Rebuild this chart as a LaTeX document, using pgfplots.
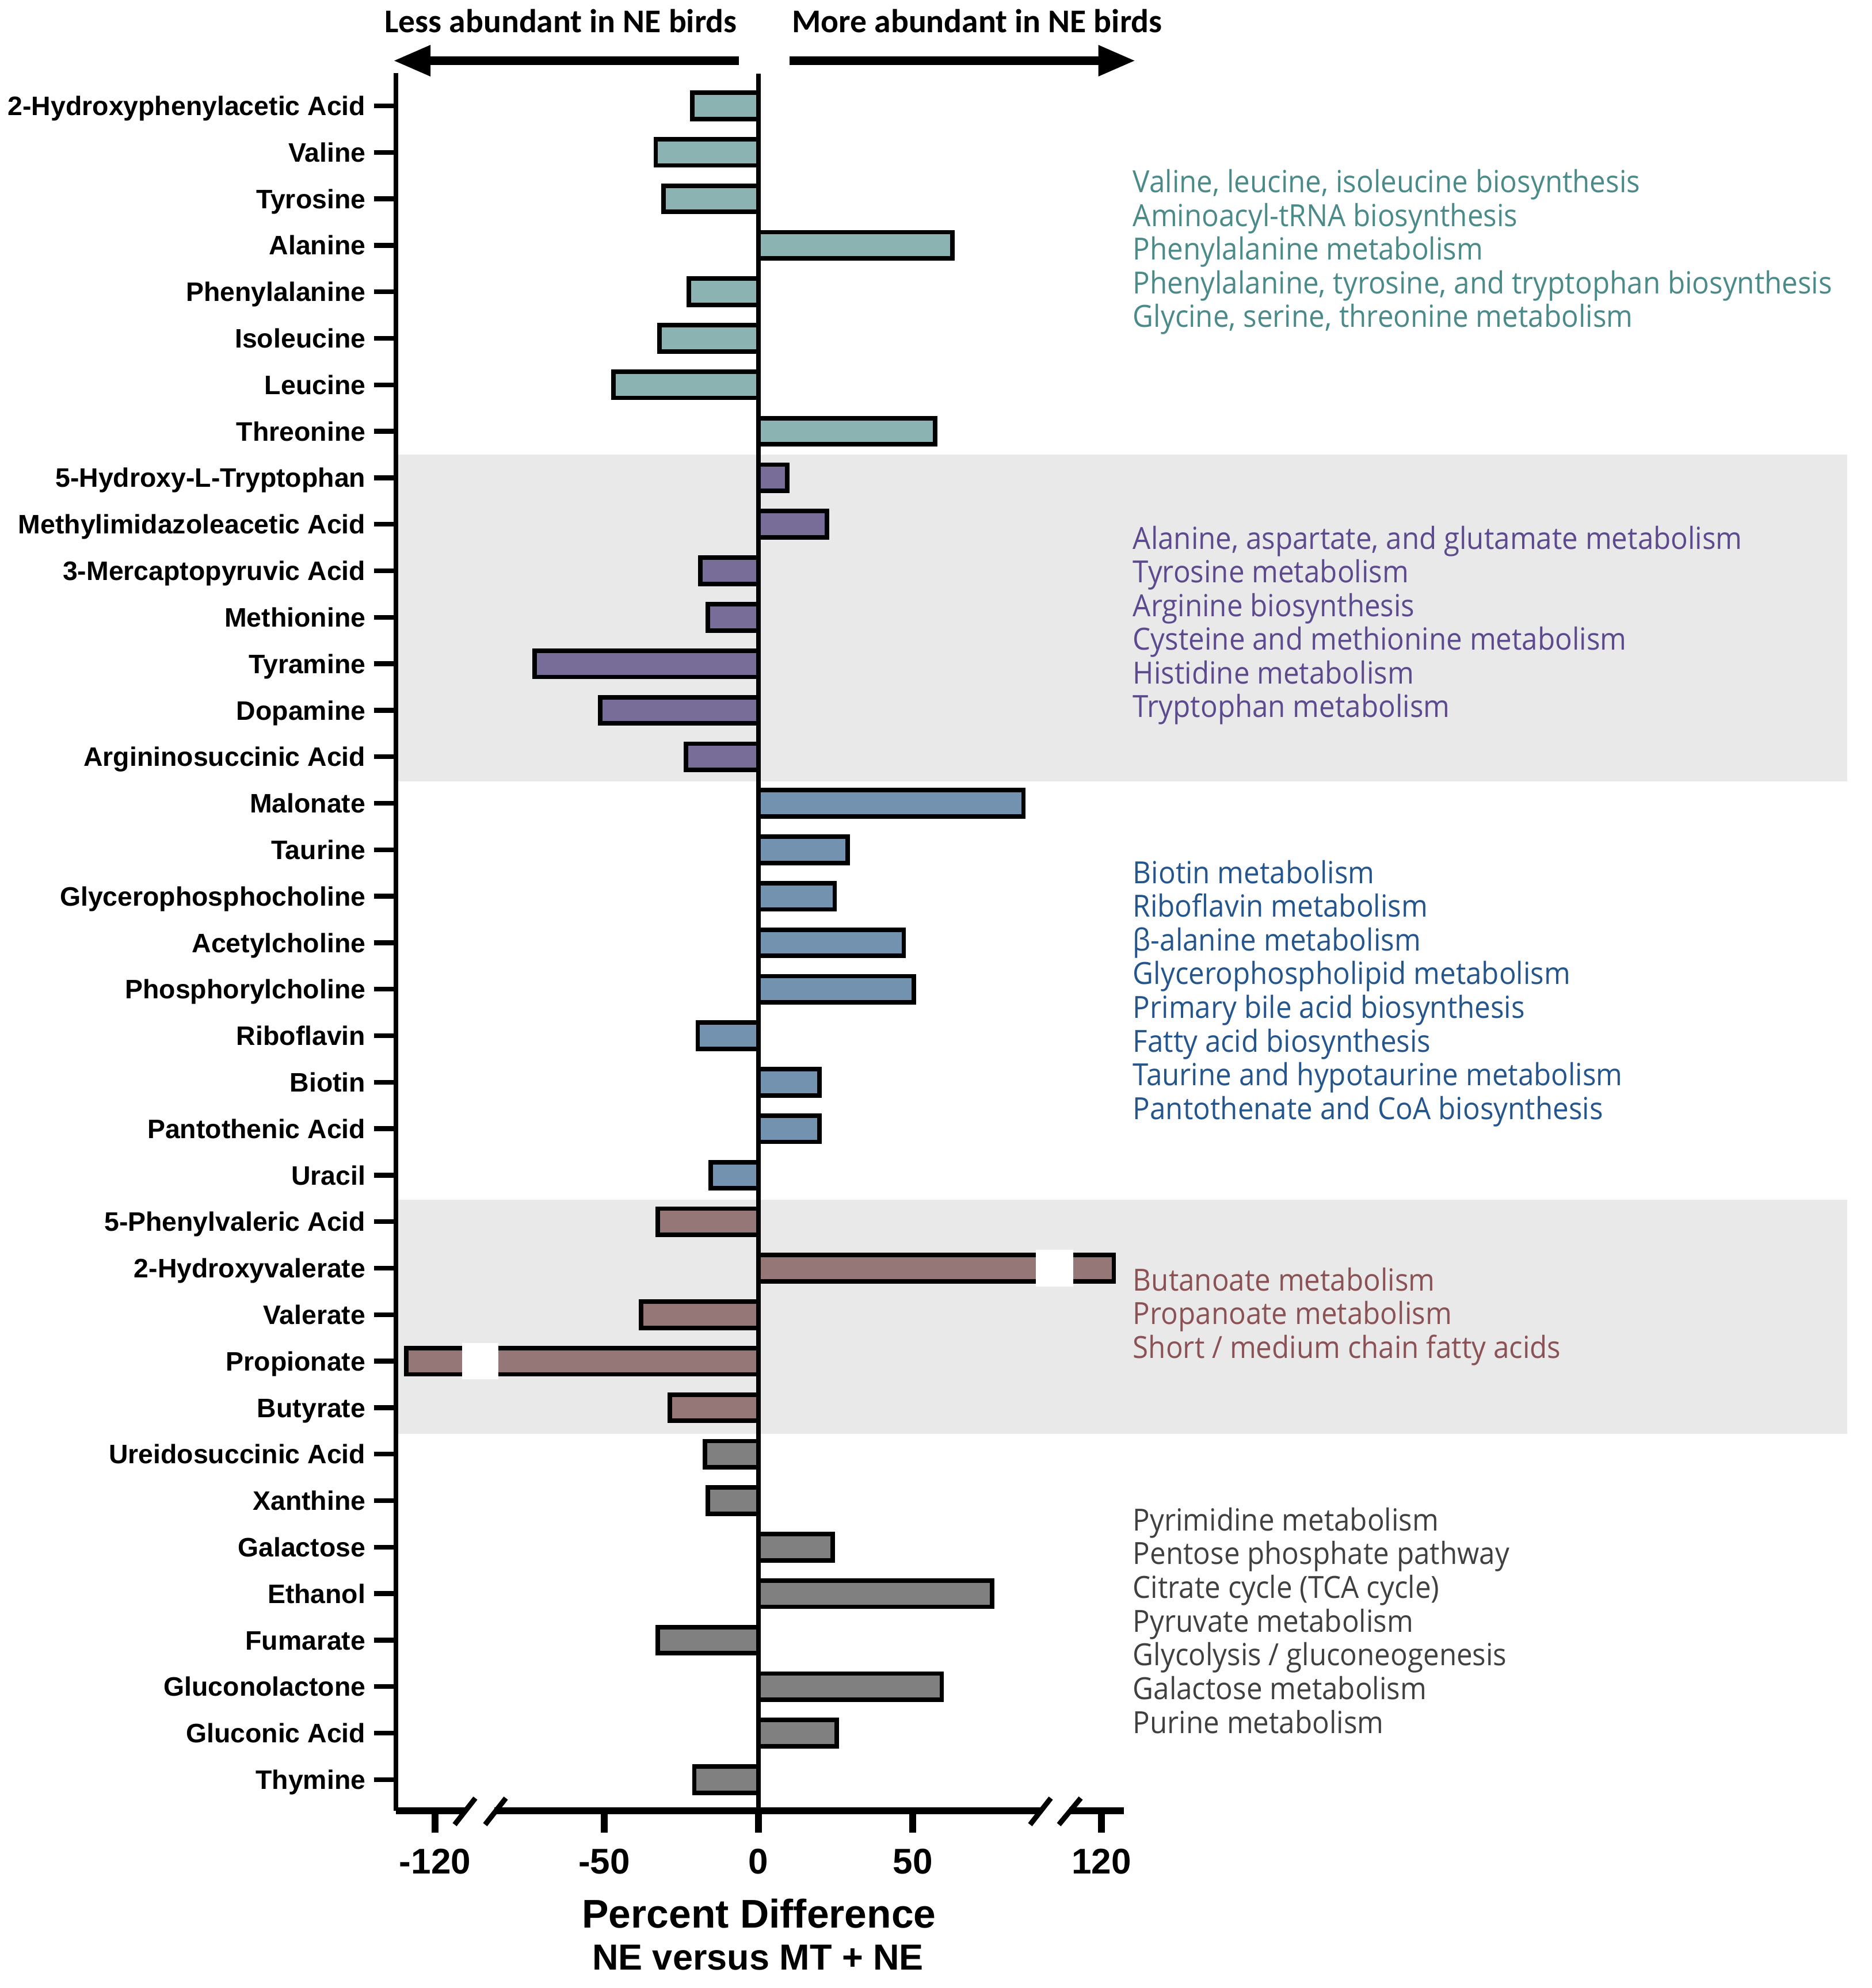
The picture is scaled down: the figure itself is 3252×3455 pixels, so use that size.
\documentclass[border=0pt]{standalone}
\usepackage{fontspec}
\setmainfont{Liberation Sans}
\newfontfamily\hdrfont{Carlito}
\newfontfamily\annotfont[FakeStretch=0.93]{Open Sans}
\usepackage{pgfplots}
\pgfplotsset{compat=1.18}
\usepackage{pgfplotstable}
\usetikzlibrary{arrows.meta}

\definecolor{tealbar}{HTML}{8AB3B1}
\definecolor{purplebar}{HTML}{786C99}
\definecolor{bluebar}{HTML}{7392B0}
\definecolor{mauvebar}{HTML}{957778}
\definecolor{graybar}{HTML}{808080}
\definecolor{tealtxt}{HTML}{4A8A88}
\definecolor{purpletxt}{HTML}{5D4A8E}
\definecolor{bluetxt}{HTML}{24558C}
\definecolor{mauvetxt}{HTML}{8B5256}
\definecolor{graytxt}{HTML}{404040}
\definecolor{band}{HTML}{E9E9E9}

% percent difference, in display units of the broken axis (row 1 = top)
\pgfplotstableread{
idx val
1 -21.4
2 -33.3
3 -30.8
4 62.8
5 -22.6
6 -32.1
7 -47.0
8 57.3
}\aminotab
\pgfplotstableread{
idx val
9 9.3
10 22.2
11 -18.9
12 -16.4
13 -72.6
14 -51.3
15 -23.5
}\purpletab
\pgfplotstableread{
idx val
16 85.9
17 28.9
18 24.7
19 47.1
20 50.3
21 -19.7
22 19.8
23 19.8
24 -15.5
}\bluetab
\pgfplotstableread{
idx val
25 -32.6
26 115.2
27 -38.0
28 -114.2
29 -28.8
}\mauvetab
\pgfplotstableread{
idx val
30 -17.3
31 -16.4
32 24.0
33 75.7
34 -32.6
35 59.4
36 25.3
37 -20.8
}\graytab

\pgfplotsset{
  metbar/.style={xbar, bar shift=0pt, bar width=11.4pt, draw=black,
    line width=1.95pt, fill=#1},
}

\begin{document}
\begin{tikzpicture}
% pixel grid of the reference: x right, y down, 1px = 0.25pt
\begin{scope}[x=0.25pt,y=-0.25pt]
\useasboundingbox (0,0) rectangle (3252,3455);
\fill[band] (688,790) rectangle (3210,1358);
\fill[band] (688,2085) rectangle (3210,2492);
\end{scope}

\begin{axis}[
  at={(172pt,-786.75pt)}, anchor=south west,
  scale only axis, width=316.25pt, height=755pt,
  xmin=-117.54, xmax=118.47,
  ymin=0.33, ymax=37.705,
  axis x line*=bottom, axis y line*=left,
  x axis line style={line width=2.9pt},
  y axis line style={line width=2.2pt},
  tick align=outside, major tick length=9.5pt,
  xtick style={line width=3.2pt, black},
  ytick style={line width=2.1pt, black},
  xtick={-104.85,-50,0,50,111.2},
  xticklabels={-120,-50,0,50,120},
  xticklabel style={font=\bfseries\fontsize{15.5pt}{17pt}\selectfont,
    inner sep=0pt, anchor=north, yshift=-6.75pt},
  ytick={1,...,37},
  yticklabels={Thymine, Gluconic Acid, Gluconolactone, Fumarate, Ethanol,
    Galactose, Xanthine, Ureidosuccinic Acid, Butyrate, Propionate, Valerate,
    2-Hydroxyvalerate, 5-Phenylvaleric Acid, Uracil, Pantothenic Acid, Biotin,
    Riboflavin, Phosphorylcholine, Acetylcholine, Glycerophosphocholine,
    Taurine, Malonate, Argininosuccinic Acid, Dopamine, Tyramine, Methionine,
    3-Mercaptopyruvic Acid, Methylimidazoleacetic Acid, 5-Hydroxy-L-Tryptophan,
    Threonine, Leucine, Isoleucine, Phenylalanine, Alanine, Tyrosine, Valine,
    2-Hydroxyphenylacetic Acid},
  yticklabel style={font=\bfseries\fontsize{11.6pt}{13pt}\selectfont,
    inner sep=0pt, anchor=base east, xshift=-3.5pt, yshift=-4.15pt},
  clip=false,
]
\addplot[metbar=tealbar] table[x=val, y expr=38-\thisrow{idx}] {\aminotab};
\addplot[metbar=purplebar] table[x=val, y expr=38-\thisrow{idx}] {\purpletab};
\addplot[metbar=bluebar] table[x=val, y expr=38-\thisrow{idx}] {\bluetab};
\addplot[metbar=mauvebar] table[x=val, y expr=38-\thisrow{idx}] {\mauvetab};
\addplot[metbar=graybar] table[x=val, y expr=38-\thisrow{idx}] {\graytab};
\draw[line width=1.8pt] (axis cs:0,0.33) -- (axis cs:0,37.69);
\end{axis}

\begin{scope}[x=0.25pt,y=-0.25pt]
% breaks in the two long bars
\fill[white] (1800,2172) rectangle (1865,2236);
\fill[white] (803,2334) rectangle (866,2397);
% axis breaks
\fill[white] (809,3136) rectangle (859,3160);
\fill[white] (1809,3136) rectangle (1858,3160);
\draw[line width=2.25pt] (790,3171) -- (826,3125);
\draw[line width=2.25pt] (843,3171) -- (879,3125);
\draw[line width=2.25pt] (1790,3171) -- (1826,3125);
\draw[line width=2.25pt] (1840,3171) -- (1878,3125);

% x axis title
\node[anchor=base, inner sep=0pt, font=\bfseries\fontsize{17.4pt}{19pt}\selectfont]
  at (1319,3350) {Percent Difference};
\node[anchor=base, inner sep=0pt, font=\bfseries\fontsize{15.75pt}{17pt}\selectfont]
  at (1317,3423) {NE versus MT + NE};

% header with arrows
\node[anchor=base, inner sep=0pt, font=\hdrfont\bfseries\fontsize{14.4pt}{16pt}\selectfont]
  at (974.5,57) {Less abundant in NE birds};
\node[anchor=base, inner sep=0pt, font=\hdrfont\bfseries\fontsize{14.4pt}{16pt}\selectfont]
  at (1698,57) {More abundant in NE birds};
\draw[line width=3.75pt, -{Triangle[length=16.25pt,width=12.5pt]}]
  (1284,105.5) -- (683,105.5);
\draw[line width=3.75pt, -{Triangle[length=16.25pt,width=12.5pt]}]
  (1372,105.5) -- (1973.5,105.5);

% pathway annotations
\tikzset{pw/.style={anchor=base west, inner sep=0pt,
  font=\annotfont\fontsize{13.25pt}{15pt}\selectfont, text=#1}}
\foreach \t [count=\i from 0] in {{Valine, leucine, isoleucine biosynthesis},
    {Aminoacyl-tRNA biosynthesis}, {Phenylalanine metabolism},
    {Phenylalanine, tyrosine, and tryptophan biosynthesis},
    {Glycine, serine, threonine metabolism}}
  \node[pw=tealtxt] at (1968,{335+58.5*\i}) {\t};
\foreach \t [count=\i from 0] in {{Alanine, aspartate, and glutamate metabolism},
    {Tyrosine metabolism}, {Arginine biosynthesis},
    {Cysteine and methionine metabolism}, {Histidine metabolism},
    {Tryptophan metabolism}}
  \node[pw=purpletxt] at (1968,{954+58.5*\i}) {\t};
\foreach \t [count=\i from 0] in {{Biotin metabolism}, {Riboflavin metabolism},
    {β-alanine metabolism}, {Glycerophospholipid metabolism},
    {Primary bile acid biosynthesis}, {Fatty acid biosynthesis},
    {Taurine and hypotaurine metabolism},
    {Pantothenate and CoA biosynthesis}}
  \node[pw=bluetxt] at (1968,{1535+58.6*\i}) {\t};
\foreach \t [count=\i from 0] in {{Butanoate metabolism},
    {Propanoate metabolism}, {Short / medium chain fatty acids}}
  \node[pw=mauvetxt] at (1968,{2243+58.5*\i}) {\t};
\foreach \t [count=\i from 0] in {{Pyrimidine metabolism},
    {Pentose phosphate pathway}, {Citrate cycle (TCA cycle)},
    {Pyruvate metabolism}, {Glycolysis / gluconeogenesis},
    {Galactose metabolism}, {Purine metabolism}}
  \node[pw=graytxt] at (1968,{2660+58.7*\i}) {\t};
\end{scope}
\end{tikzpicture}
\end{document}
